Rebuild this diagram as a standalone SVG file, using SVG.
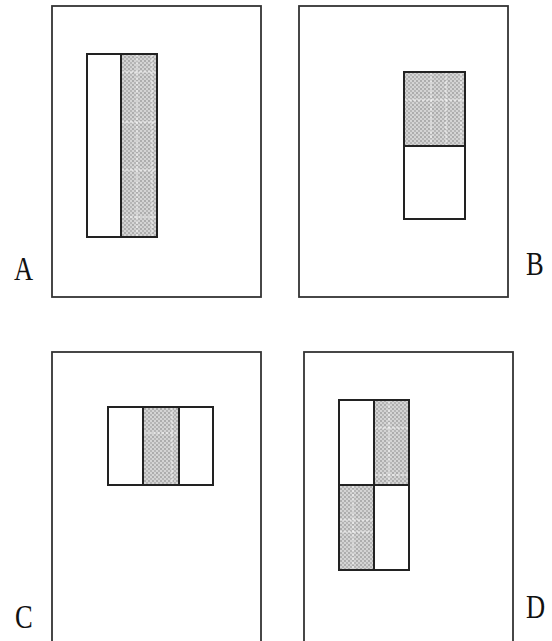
<svg xmlns="http://www.w3.org/2000/svg" width="552" height="641" viewBox="0 0 552 641">
<defs>
<pattern id="dots" width="4" height="4" patternUnits="userSpaceOnUse">
<rect width="4" height="4" fill="#d4d4d4"/>
<circle cx="1" cy="1" r="0.9" fill="#9a9a9a"/>
<circle cx="3" cy="3" r="0.9" fill="#a8a8a8"/>
</pattern>
</defs>
<style>
.frame{fill:#fff;stroke:#333;stroke-width:1.8}
.box{fill:none;stroke:#222;stroke-width:2}
.shade{fill:url(#dots);stroke:none}
.grid{stroke:#fff;stroke-width:1;stroke-dasharray:3 1.5;opacity:0.85}
.lbl{font-family:"Liberation Serif",serif;font-size:34px;fill:#111}
</style>
<rect width="552" height="641" fill="#fff"/>
<g id="A">
<rect class="frame" x="52" y="6" width="209" height="291"/>
<rect class="shade" x="121" y="54" width="36" height="183"/>
<g class="grid"><line x1="137" y1="54" x2="137" y2="237"/><line x1="152" y1="54" x2="152" y2="237"/><line x1="121" y1="72" x2="157" y2="72"/><line x1="121" y1="122" x2="157" y2="122"/><line x1="121" y1="170" x2="157" y2="170"/><line x1="121" y1="217" x2="157" y2="217"/></g>
<rect class="box" x="87" y="54" width="70" height="183"/>
<line class="box" x1="121" y1="54" x2="121" y2="237"/>
<text class="lbl" x="14" y="280" transform="translate(14 0) scale(0.78 1) translate(-14 0)">A</text>
</g>
<g id="B">
<rect class="frame" x="299" y="6" width="209" height="291"/>
<rect class="shade" x="404" y="72" width="61" height="74"/>
<g class="grid"><line x1="431" y1="72" x2="431" y2="146"/><line x1="446" y1="72" x2="446" y2="146"/><line x1="461" y1="72" x2="461" y2="146"/><line x1="404" y1="100" x2="465" y2="100"/></g>
<rect class="box" x="404" y="72" width="61" height="147"/>
<line class="box" x1="404" y1="146" x2="465" y2="146"/>
<text class="lbl" x="526" y="275" transform="translate(526 0) scale(0.78 1) translate(-526 0)">B</text>
</g>
<g id="C">
<rect class="frame" x="52" y="352" width="209" height="300"/>
<rect class="shade" x="143" y="407" width="36" height="78"/>
<g class="grid"><line x1="172" y1="407" x2="172" y2="485"/><line x1="143" y1="433" x2="179" y2="433"/></g>
<rect class="box" x="108" y="407" width="105" height="78"/>
<line class="box" x1="143" y1="407" x2="143" y2="485"/>
<line class="box" x1="179" y1="407" x2="179" y2="485"/>
<text class="lbl" x="15" y="628" transform="translate(15 0) scale(0.78 1) translate(-15 0)">C</text>
</g>
<g id="D">
<rect class="frame" x="304" y="352" width="209" height="300"/>
<rect class="shade" x="374" y="400" width="35" height="85"/>
<rect class="shade" x="339" y="485" width="35" height="85"/>
<g class="grid"><line x1="389" y1="400" x2="389" y2="485"/><line x1="374" y1="428" x2="409" y2="428"/><line x1="374" y1="475" x2="409" y2="475"/><line x1="353" y1="485" x2="353" y2="570"/><line x1="339" y1="520" x2="374" y2="520"/><line x1="339" y1="532" x2="374" y2="532"/></g>
<rect class="box" x="339" y="400" width="70" height="170"/>
<line class="box" x1="374" y1="400" x2="374" y2="570"/>
<line class="box" x1="339" y1="485" x2="409" y2="485"/>
<text class="lbl" x="526" y="618" transform="translate(526 0) scale(0.78 1) translate(-526 0)">D</text>
</g>
</svg>
